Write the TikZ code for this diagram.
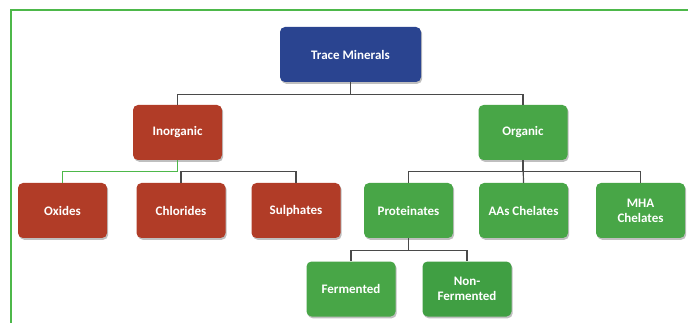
\documentclass[tikz,border=0pt]{standalone}
\usepackage{fontspec}
\setmainfont{Carlito}
\usetikzlibrary{shadows}
\definecolor{frameGreen}{HTML}{4DB84A}
\definecolor{boxBlue}{HTML}{2A4490}
\definecolor{boxRed}{HTML}{B13C27}
\definecolor{boxGreen}{HTML}{48A647}
\definecolor{boxGreenDk}{HTML}{409F43}
\definecolor{linkGray}{HTML}{4A4A4A}
\begin{document}
\begin{tikzpicture}[x=1pt,y=-1pt,
  catbox/.style={rectangle, rounded corners=5pt, minimum width=89pt, minimum height=55pt,
    inner sep=2pt, align=center, text=white, font=\fontsize{13}{15}\selectfont\bfseries,
    drop shadow={shadow xshift=1.2pt, shadow yshift=-1.8pt, opacity=0.25, fill=black}},
  redbox/.style={catbox, fill=boxRed},
  greenbox/.style={catbox, fill=boxGreen},
  link/.style={draw=linkGray, line width=1.2pt},
  greenlink/.style={draw=frameGreen, line width=1.2pt}]
  \useasboundingbox (0,0) rectangle (688,323);
  \fill[white] (0,0) rectangle (688,323);
  % page frame
  \draw[frameGreen, line width=1.6pt] (688,10) -- (11,10) -- (11,324);

  % root
  \node[catbox, fill=boxBlue, minimum width=141pt] (tm) at (350.5,54.5) {Trace Minerals};
  % second level
  \node[redbox] (inorg) at (177.5,132.5) {Inorganic};
  \node[greenbox] (org) at (523,132.5) {Organic};
  % inorganic forms
  \node[redbox] (oxi) at (62.5,210.5) {Oxides};
  \node[redbox] (chl) at (181,210.5) {Chlorides};
  \node[redbox] (sul) at (296,210.5) {Sulphates};
  % organic forms
  \node[greenbox] (pro) at (408.5,210.5) {Proteinates};
  \node[greenbox] (aas) at (523.5,210.5) {AAs Chelates};
  \node[greenbox] (mha) at (640.5,210.5) {MHA\\Chelates};
  % proteinate types
  \node[greenbox] (fer) at (351,289) {Fermented};
  \node[greenbox, fill=boxGreenDk] (nfe) at (467,289) {Non-\\Fermented};

  % connectors
  \draw[link] (tm.south) -- ++(0,12) -| (inorg.north);
  \draw[link] (tm.south) -- ++(0,12) -| (org.north);
  \draw[greenlink] (inorg.south) -- ++(0,11) -| (oxi.north);
  \draw[link] (chl.north) -- ++(0,-11) -| (sul.north);
  \draw[link] (org.south) -- (aas.north);
  \draw[link] (org.south) -- ++(0,11.5) -| (pro.north);
  \draw[link] (org.south) -- ++(0,11.5) -| (mha.north);
  \draw[link] (pro.south) -- ++(0,12) -| (fer.north);
  \draw[link] (pro.south) -- ++(0,12) -| (nfe.north);
\end{tikzpicture}
\end{document}
